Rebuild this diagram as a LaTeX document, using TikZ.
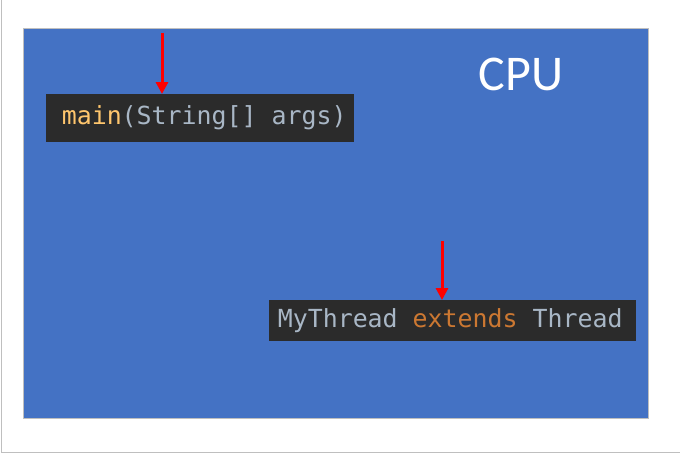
\documentclass[tikz,border=0pt]{standalone}
\usepackage{fontspec}
\setsansfont{Carlito}
\setmonofont{DejaVu Sans Mono}
\usepackage{tikz}
\usetikzlibrary{arrows.meta}
\definecolor{cpublue}{HTML}{4472C4}
\definecolor{codebg}{HTML}{2B2B2B}
\definecolor{codefg}{HTML}{A9B7C6}
\definecolor{codefn}{HTML}{FFC66D}
\definecolor{codekw}{HTML}{CC7832}
\definecolor{edgegray}{HTML}{BFBFBF}

\begin{document}
\begin{tikzpicture}[x=1pt, y=-1pt,
  codebox/.style={fill=codebg, inner sep=0pt, text=codefg,
    text height=19pt, text depth=6pt,
    font=\fontsize{24.9}{27}\ttfamily},
  pointer/.style={draw=red, line width=3pt,
    -{Triangle[length=12pt,width=12pt]}}]
%%% slide frame %%%
\useasboundingbox (0,0) rectangle (680,453);
\draw[edgegray, line width=1pt] (1,0) -- (1,452) -- (680,452);

%%% cpu area %%%
\node[draw=edgegray, fill=cpublue, line width=0.8pt, inner sep=0pt,
      minimum width=625pt, minimum height=390pt, anchor=north west]
      (cpu) at (23,28) {};
\node[text=white, font=\fontsize{50}{52}\sffamily] (cpulabel) at (521,74) {CPU};

%%% code lines %%%
\node[codebox, minimum width=308pt, minimum height=48pt, anchor=north west]
      (mainbox) at (46,94) {\hspace*{8pt}\textcolor{codefn}{main}(String[] args)};
\node[codebox, minimum width=367pt, minimum height=41pt, anchor=north west]
      (threadbox) at (269,300) {MyThread \textcolor{codekw}{extends} Thread\hspace*{5pt}};

%%% pointers %%%
\coordinate (mainfrom) at (162,33);
\coordinate (threadfrom) at (442,241);
\draw[pointer] (mainfrom) -- (mainfrom |- mainbox.north);
\draw[pointer] (threadfrom) -- (threadfrom |- threadbox.north);

\end{tikzpicture}
\end{document}
